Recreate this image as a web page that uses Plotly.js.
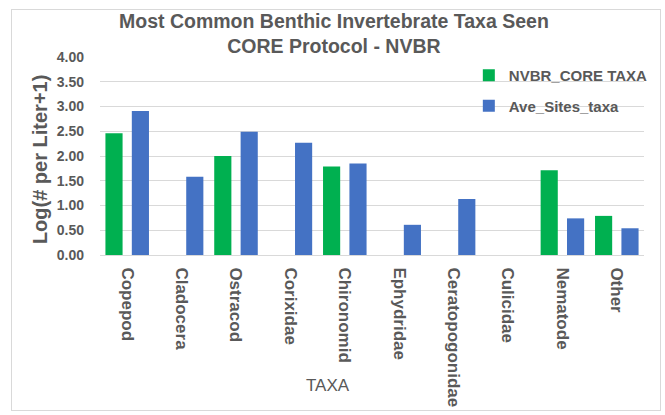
<!DOCTYPE html>
<html>
<head>
<meta charset="utf-8">
<script src="https://cdn.plot.ly/plotly-3.0.1.min.js"></script>
<style>
html,body{margin:0;padding:0;background:#fff;}
#wrap{position:relative;width:665px;height:415px;}
#chart{position:absolute;left:0;top:0;width:665px;height:415px;}
#frame{position:absolute;left:11px;top:9px;width:648px;height:400px;border:1px solid #d9d9d9;pointer-events:none;}
</style>
</head>
<body>
<div id="wrap"><div id="chart"></div><div id="frame"></div></div>
<script>
const categories = ["Copepod","Cladocera","Ostracod","Corixidae","Chironomid","Ephydridae","Ceratopogonidae","Culicidae","Nematode","Other"];
const nvbrCore = [2.46, null, 2.00, null, 1.79, null, null, null, 1.71, 0.79];
const aveSites = [2.91, 1.58, 2.49, 2.27, 1.85, 0.61, 1.13, null, 0.74, 0.54];
const yTicks = [0, 0.5, 1, 1.5, 2, 2.5, 3, 3.5, 4];
const yTickText = ["0.00","0.50","1.00","1.50","2.00","2.50","3.00","3.50","4.00"];

const txt = "#595959";
const fam = "Liberation Sans, Arial, sans-serif";

const data = [
  {type:"bar", name:"NVBR_CORE TAXA", x:categories, y:nvbrCore, marker:{color:"#00B050"}, legendgroup:"a"},
  {type:"bar", name:"Ave_Sites_taxa", x:categories, y:aveSites, marker:{color:"#4472C4"}, legendgroup:"b"}
];

const layout = {
  width:665, height:415,
  margin:{l:100, r:21, t:57, b:160},
  paper_bgcolor:"rgba(0,0,0,0)", plot_bgcolor:"rgba(0,0,0,0)",
  barmode:"group", bargap:0.03, bargroupgap:0.35,
  font:{family:fam, color:txt},
  xaxis:{type:"category", tickangle:90, tickfont:{size:17, color:txt, family:fam, weight:"bold"},
    ticks:"", showgrid:false, showline:true, linecolor:"#d9d9d9", linewidth:1, fixedrange:true,
    ticklabelstandoff:8},
  yaxis:{range:[0,4], tickvals:yTicks, ticktext:yTickText, tickfont:{size:14, color:txt, family:fam, weight:"bold"},
    showgrid:true, gridcolor:"#d9d9d9", gridwidth:1, zeroline:false, showline:false, ticks:"",
    ticklabelstandoff:15},
  showlegend:true,
  legend:{x:0.678, xanchor:"left", y:0.99, yanchor:"top", bgcolor:"rgba(0,0,0,0)",
    font:{size:15, color:txt, family:fam, weight:"bold"}, traceorder:"grouped", tracegroupgap:8, itemwidth:30},
  annotations:[
    {text:"<b>Most Common Benthic Invertebrate Taxa Seen<br>CORE Protocol - NVBR</b>", xref:"paper", yref:"paper",
      x:0.430, y:1.1187, xanchor:"center", yanchor:"middle", showarrow:false,
      font:{size:19.5, color:txt, family:fam}},
    {text:"<b>Log(# per Liter+1)</b>", xref:"paper", yref:"paper", x:-0.11, y:0.48,
      xanchor:"center", yanchor:"middle", textangle:-90, showarrow:false,
      font:{size:20, color:txt, family:fam}},
    {text:"TAXA", xref:"paper", yref:"paper", x:0.419, y:-0.657,
      xanchor:"center", yanchor:"middle", showarrow:false,
      font:{size:17, color:txt, family:fam}}
  ]
};

Plotly.newPlot("chart", data, layout, {displayModeBar:false, staticPlot:true});
</script>
</body>
</html>
